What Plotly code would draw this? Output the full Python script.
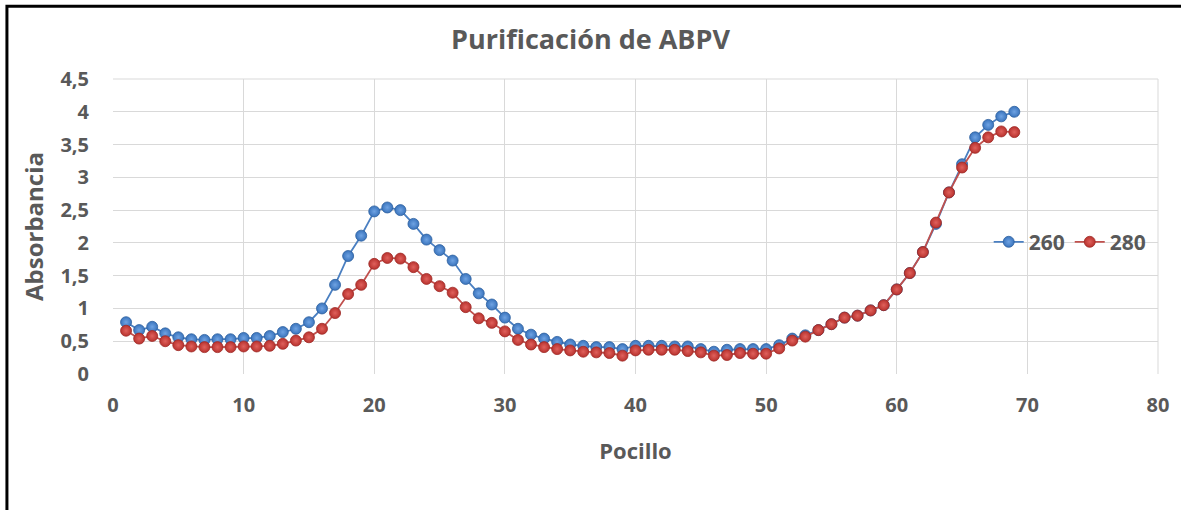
import plotly.graph_objects as go

pocillo = list(range(1, 70))
abs_260 = [0.79, 0.67, 0.72, 0.62, 0.56, 0.53, 0.52, 0.53, 0.53, 0.55,
           0.55, 0.58, 0.64, 0.69, 0.79, 1.00, 1.36, 1.80, 2.11, 2.48,
           2.54, 2.50, 2.29, 2.05, 1.89, 1.73, 1.45, 1.23, 1.06, 0.86,
           0.69, 0.60, 0.54, 0.49, 0.45, 0.43, 0.41, 0.41, 0.38, 0.43,
           0.43, 0.43, 0.42, 0.42, 0.38, 0.34, 0.37, 0.38, 0.38, 0.38,
           0.44, 0.54, 0.59, 0.67, 0.76, 0.86, 0.89, 0.97, 1.05, 1.29,
           1.54, 1.86, 2.29, 2.77, 3.20, 3.61, 3.80, 3.93, 4.00]
abs_280 = [0.66, 0.54, 0.58, 0.50, 0.44, 0.42, 0.41, 0.41, 0.41, 0.42,
           0.42, 0.43, 0.46, 0.51, 0.56, 0.69, 0.93, 1.22, 1.36, 1.68,
           1.77, 1.76, 1.63, 1.45, 1.34, 1.24, 1.02, 0.85, 0.78, 0.65,
           0.52, 0.45, 0.41, 0.38, 0.36, 0.34, 0.33, 0.32, 0.28, 0.36,
           0.37, 0.37, 0.37, 0.35, 0.33, 0.28, 0.29, 0.32, 0.31, 0.31,
           0.39, 0.51, 0.57, 0.67, 0.76, 0.86, 0.89, 0.97, 1.05, 1.29,
           1.54, 1.86, 2.31, 2.77, 3.15, 3.45, 3.61, 3.70, 3.69]

x_ticks = [0, 10, 20, 30, 40, 50, 60, 70, 80]
y_ticks = [0, 0.5, 1, 1.5, 2, 2.5, 3, 3.5, 4, 4.5]
y_labels = [f"{v:g}".replace(".", ",") for v in y_ticks]

TXT = "#595959"
FONT = "Open Sans"

fig = go.Figure()
fig.add_trace(go.Scatter(
    x=pocillo, y=abs_260, name="<b>260</b>", mode="lines+markers",
    line=dict(color="#4a7fc1", width=1.8),
    marker=dict(size=11, color="#3a74bd", line=dict(color="#2c5f9e", width=0.8),
                gradient=dict(type="radial", color="#6fa3e3")),
))
fig.add_trace(go.Scatter(
    x=pocillo, y=abs_280, name="<b>280</b>", mode="lines+markers",
    line=dict(color="#c0504d", width=1.8),
    marker=dict(size=11, color="#b8322e", line=dict(color="#9e2a26", width=0.8),
                gradient=dict(type="radial", color="#e0615c")),
))

fig.update_layout(
    width=1181, height=510,
    margin=dict(l=113, r=19, t=79, b=136),
    paper_bgcolor="white", plot_bgcolor="white",
    font=dict(family=FONT, color=TXT),
    title=dict(text="<b>Purificación de ABPV</b>", x=0.5, xanchor="center",
               y=1 - 40 / 510, yanchor="middle",
               font=dict(size=27, color=TXT, family=FONT)),
    showlegend=True,
    legend=dict(orientation="h", x=0.838, xanchor="left", y=0.447, yanchor="middle",
                font=dict(size=21, color=TXT, family=FONT),
                bgcolor="rgba(0,0,0,0)", itemwidth=30, traceorder="normal"),
    xaxis=dict(range=[0, 80], tickvals=x_ticks, ticktext=[f"<b>{v}</b>" for v in x_ticks],
               showgrid=True, gridcolor="#d9d9d9", gridwidth=1,
               zeroline=False, showline=False, ticks="",
               ticklabelstandoff=17,
               tickfont=dict(size=20, color=TXT, family=FONT),
               title=dict(text="<b>Pocillo</b>", font=dict(size=22, color=TXT, family=FONT),
                          standoff=26)),
    yaxis=dict(range=[0, 4.5], tickvals=y_ticks, ticktext=[f"<b>{t}</b>" for t in y_labels],
               showgrid=True, gridcolor="#d9d9d9", gridwidth=1,
               zeroline=False, showline=False, ticks="",
               ticklabelstandoff=23,
               tickfont=dict(size=20, color=TXT, family=FONT),
               title=dict(text="<b>Absorbancia</b>", font=dict(size=24, color=TXT, family=FONT),
                          standoff=10)),
    shapes=[
        dict(type="rect", xref="paper", yref="paper",
             x0=-0.1015, x1=1.2, y0=-1.0, y1=1.247,
             line=dict(color="black", width=3), fillcolor="rgba(0,0,0,0)", layer="below"),
        dict(type="line", xref="paper", yref="paper", x0=1, x1=1, y0=0, y1=1,
             line=dict(color="#d9d9d9", width=1), layer="below"),
        dict(type="line", xref="paper", yref="paper", x0=0, x1=1, y0=1, y1=1,
             line=dict(color="#d9d9d9", width=1), layer="below"),
    ],
)

fig.write_html("out.html", config={"displayModeBar": False},
               post_script="document.body.style.margin='0';"
                           "document.body.style.overflow='hidden';"
                           "document.documentElement.style.overflow='hidden';")
